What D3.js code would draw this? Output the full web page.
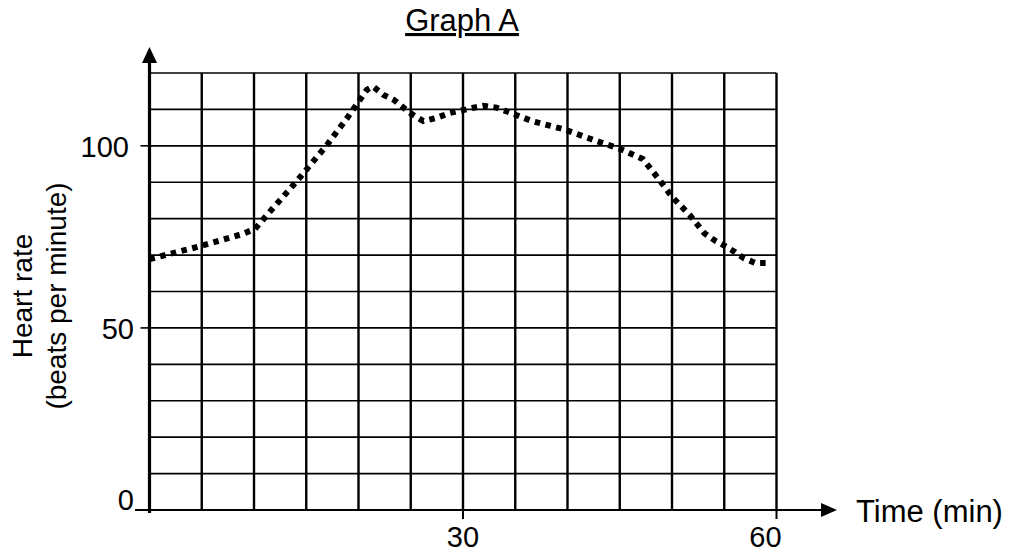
<!DOCTYPE html>
<html>
<head>
<meta charset="utf-8">
<script src="https://cdn.jsdelivr.net/npm/d3@7"></script>
<style>
  html, body { margin: 0; padding: 0; background: #fff; }
  svg { display: block; font-family: "Liberation Sans", Arial, sans-serif; }
</style>
</head>
<body>
<svg id="chart" width="1014" height="552"></svg>
<script>
// Heart rate recorded over one hour
const timeMin = [0, 4.8, 8.9, 10.1, 11.7, 14, 17, 18.9, 20.1, 20.8, 21.4, 22.4, 23.4, 24.3, 25.1, 26.2, 27.5, 28.7, 30.9, 32, 33.2, 34.6, 36.6, 39.7, 43.1, 45.1, 47.2, 48.7, 50, 51.7, 53.1, 54.1, 55, 56, 56.9, 58, 59.1];
const heartRate = [68.9, 72.4, 75.8, 77.2, 82.5, 90, 100.3, 107.6, 112.5, 115.4, 116.3, 114, 112.6, 110.5, 108.7, 106.8, 107.7, 109, 110.4, 111, 110.5, 109, 106.8, 104.5, 101, 99.1, 96.4, 91, 86, 81, 76, 74, 72.6, 70.9, 69.1, 67.8, 67.8];

const xTickLabels = [30, 60];
const yTickLabels = [0, 50, 100];
const xGrid = d3.range(5, 61, 5);
const yGrid = d3.range(10, 121, 10);

const svg = d3.select("#chart");

const x = d3.scaleLinear().domain([0, 60]).range([149.5, 776.5]);
const y = d3.scaleLinear().domain([0, 120]).range([510, 73]);

// grid
svg.append("g").selectAll("line").data(yGrid).join("line")
  .attr("x1", x(0)).attr("x2", x(60))
  .attr("y1", d => y(d)).attr("y2", d => y(d))
  .attr("stroke", "#000").attr("stroke-width", 1.6);

svg.append("g").selectAll("line").data(xGrid).join("line")
  .attr("x1", d => x(d)).attr("x2", d => x(d))
  .attr("y1", y(0)).attr("y2", y(120))
  .attr("stroke", "#000").attr("stroke-width", 2.4);

// axes with arrow heads
svg.append("line")
  .attr("x1", 135).attr("x2", 824)
  .attr("y1", y(0)).attr("y2", y(0))
  .attr("stroke", "#000").attr("stroke-width", 2.2);
svg.append("path")
  .attr("d", `M837,${y(0)} L821,${y(0) - 7} L821,${y(0) + 7} Z`)
  .attr("fill", "#000");

svg.append("line")
  .attr("x1", x(0)).attr("x2", x(0))
  .attr("y1", 513).attr("y2", 60)
  .attr("stroke", "#000").attr("stroke-width", 3.2);
svg.append("path")
  .attr("d", `M${x(0)},47 L${x(0) - 7.5},63 L${x(0) + 7.5},63 Z`)
  .attr("fill", "#000");

// tick marks
svg.append("g").selectAll("line").data(yTickLabels.filter(d => d > 0)).join("line")
  .attr("x1", x(0) - 9).attr("x2", x(0))
  .attr("y1", d => y(d)).attr("y2", d => y(d))
  .attr("stroke", "#000").attr("stroke-width", 1.6);
svg.append("g").selectAll("line").data(xTickLabels).join("line")
  .attr("x1", d => x(d)).attr("x2", d => x(d))
  .attr("y1", y(0)).attr("y2", y(0) + 9)
  .attr("stroke", "#000").attr("stroke-width", 2);

// tick labels
svg.append("g").selectAll("text").data(yTickLabels).join("text")
  .attr("x", d => d === 100 ? 129 : 134)
  .attr("y", d => d === 0 ? y(0) - 10 : y(d) + 1)
  .attr("text-anchor", "end")
  .attr("dominant-baseline", "central")
  .attr("font-size", 29)
  .text(d => d);

svg.append("g").selectAll("text").data(xTickLabels).join("text")
  .attr("x", d => x(d) - (d === 60 ? 11 : 0))
  .attr("y", 547)
  .attr("text-anchor", "middle")
  .attr("font-size", 29)
  .text(d => d);

// axis titles
svg.append("text")
  .attr("x", 856).attr("y", 522)
  .attr("font-size", 31)
  .text("Time (min)");

const yTitle = svg.append("text")
  .attr("transform", "translate(0,296) rotate(-90)")
  .attr("text-anchor", "middle")
  .attr("font-size", 28);
yTitle.append("tspan").attr("x", 0).attr("y", 32).text("Heart rate");
yTitle.append("tspan").attr("x", 0).attr("y", 66).text("(beats per minute)");

// title
svg.append("text")
  .attr("x", 462).attr("y", 31)
  .attr("text-anchor", "middle")
  .attr("font-size", 31)
  .attr("text-decoration", "underline")
  .text("Graph A");

// heart-rate trace
const line = d3.line()
  .x((d, i) => x(timeMin[i]))
  .y(d => y(d));

svg.append("path")
  .datum(heartRate)
  .attr("d", line)
  .attr("fill", "none")
  .attr("stroke", "#000")
  .attr("stroke-width", 6)
  .attr("stroke-dasharray", "5.5,5.5")
  .attr("stroke-linejoin", "miter");
</script>
</body>
</html>
